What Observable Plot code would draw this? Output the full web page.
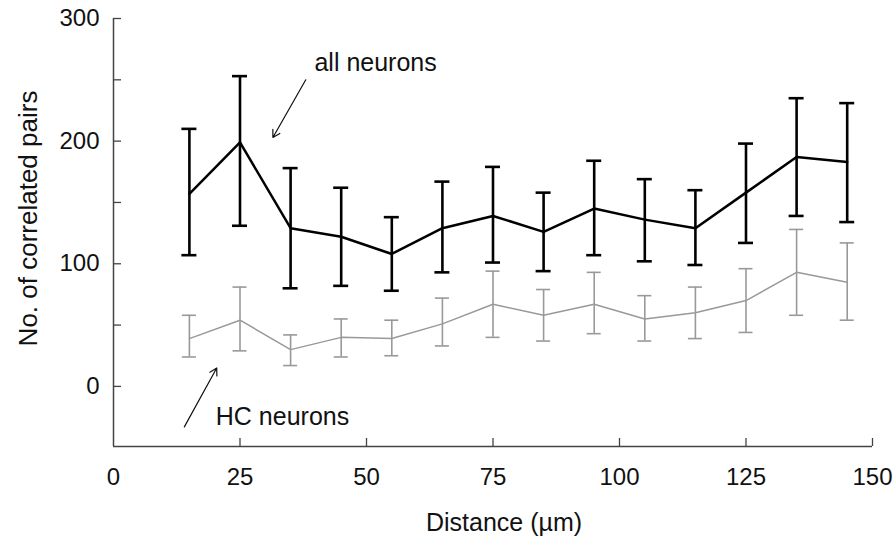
<!DOCTYPE html>
<html>
<head>
<meta charset="utf-8">
<script src="https://cdn.jsdelivr.net/npm/d3@7"></script>
<script src="https://cdn.jsdelivr.net/npm/@observablehq/plot@0.6"></script>
<style>
  html, body { margin: 0; padding: 0; background: #fff; }
  #chart svg { display: block; }
</style>
</head>
<body>
<div id="chart"></div>
<script>
// ---- Data ----
const distance = [15, 25, 35, 45, 55, 65, 75, 85, 95, 105, 115, 125, 135, 145];
const allMean  = [157, 199, 129, 122, 108, 129, 139, 126, 145, 136, 129, 158, 187, 183];
const allUpper = [210, 253, 178, 162, 138, 167, 179, 158, 184, 169, 160, 198, 235, 231];
const allLower = [107, 131, 80, 82, 78, 93, 101, 94, 107, 102, 99, 117, 139, 134];
const hcMean   = [39, 54, 30, 40, 39, 51, 67, 58, 67, 55, 60, 70, 93, 85];
const hcUpper  = [58, 81, 42, 55, 54, 72, 94, 79, 93, 74, 81, 96, 128, 117];
const hcLower  = [24, 29, 17, 24, 25, 33, 40, 37, 43, 37, 39, 44, 58, 54];

const xTicks = [0, 25, 50, 75, 100, 125, 150];
const yTickLabels = [0, 100, 200, 300];
const yTickMarks = [0, 50, 100, 150, 200, 250, 300];

const xLabel = "Distance (µm)";
const yLabel = "No. of correlated pairs";

// annotation labels and arrow positions (data units)
const annoText = [
  {label: "all neurons", x: 51.8, y: 264},
  {label: "HC neurons", x: 33.4, y: -25}
];
const annoArrows = [
  {x1: 38.0, y1: 250, x2: 31.5, y2: 203},
  {x1: 14.0, y1: -33, x2: 20.4, y2: 15}
];

const xDomain = [0, 150];
const yDomain = [-49, 300];

// ---- Build tables ----
const allData = distance.map((d, i) => ({x: d, m: allMean[i], lo: allLower[i], hi: allUpper[i]}));
const hcData  = distance.map((d, i) => ({x: d, m: hcMean[i], lo: hcLower[i], hi: hcUpper[i]}));

const FONT = "'Liberation Sans', Arial, sans-serif";
const AXIS = "#444";

const chart = Plot.plot({
  width: 893,
  height: 549,
  marginLeft: 113,
  marginRight: 21,
  marginTop: 18,
  marginBottom: 103,
  style: {fontFamily: FONT, background: "#fff", color: "#111"},
  x: {domain: xDomain},
  y: {domain: yDomain},
  marks: [
    // axis lines
    Plot.ruleX([xDomain[0]], {stroke: AXIS, strokeWidth: 1.5}),
    Plot.ruleY([yDomain[0]], {stroke: AXIS, strokeWidth: 1.5}),
    // inward ticks
    Plot.axisY({ticks: yTickMarks, tickSize: -8, text: null, label: null, stroke: AXIS, strokeWidth: 1.3}),
    Plot.axisX({ticks: xTicks.filter(t => t > 0), tickSize: -8, text: null, label: null, stroke: AXIS, strokeWidth: 1.3}),
    // tick labels
    Plot.axisY({ticks: yTickLabels, tickSize: 0, tickPadding: 14, label: null, fontSize: 24, fill: "#111"}),
    Plot.axisX({ticks: xTicks, tickSize: 0, tickPadding: 21, label: null, fontSize: 24, fill: "#111"}),
    // axis titles
    Plot.text([xLabel], {frameAnchor: "bottom", dx: 11, dy: 84, fontSize: 25, fill: "#111"}),
    Plot.text([yLabel], {frameAnchor: "left", textAnchor: "middle", dx: -85, dy: -14, rotate: -90, fontSize: 26, fill: "#111"}),
    // HC neurons (gray)
    Plot.ruleX(hcData, {x: "x", y1: "lo", y2: "hi", stroke: "#999", strokeWidth: 1.6}),
    Plot.ruleY(hcData, {y: "hi", x1: "x", x2: "x", insetLeft: -7, insetRight: -7, stroke: "#999", strokeWidth: 1.6}),
    Plot.ruleY(hcData, {y: "lo", x1: "x", x2: "x", insetLeft: -7, insetRight: -7, stroke: "#999", strokeWidth: 1.6}),
    Plot.line(hcData, {x: "x", y: "m", stroke: "#999", strokeWidth: 1.5}),
    // all neurons (black)
    Plot.ruleX(allData, {x: "x", y1: "lo", y2: "hi", stroke: "#000", strokeWidth: 2.6}),
    Plot.ruleY(allData, {y: "hi", x1: "x", x2: "x", insetLeft: -7.5, insetRight: -7.5, stroke: "#000", strokeWidth: 2.6}),
    Plot.ruleY(allData, {y: "lo", x1: "x", x2: "x", insetLeft: -7.5, insetRight: -7.5, stroke: "#000", strokeWidth: 2.6}),
    Plot.line(allData, {x: "x", y: "m", stroke: "#000", strokeWidth: 2.5}),
    // annotations
    Plot.arrow(annoArrows, {x1: "x1", y1: "y1", x2: "x2", y2: "y2", stroke: "#111", strokeWidth: 1.2, headLength: 10, bend: 0}),
    Plot.text(annoText, {x: "x", y: "y", text: "label", fontSize: 25, fill: "#111"})
  ]
});

document.getElementById("chart").appendChild(chart);
</script>
</body>
</html>
